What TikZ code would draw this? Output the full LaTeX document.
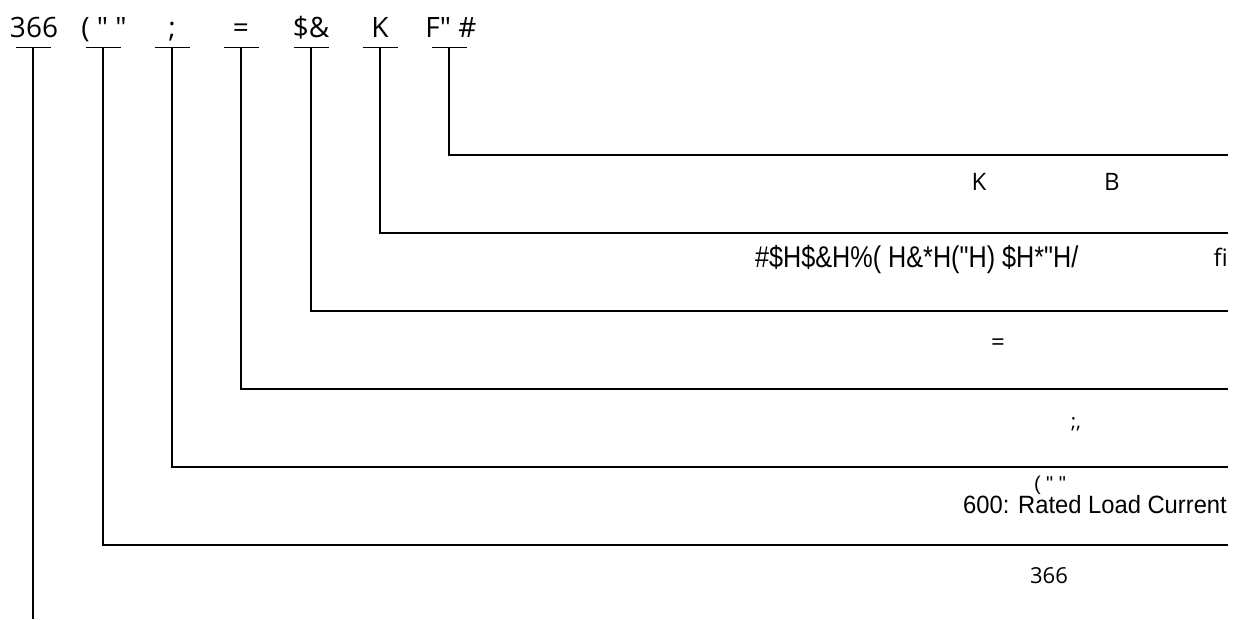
\documentclass[tikz,border=0pt]{standalone}
\usepackage{fontspec}
\newfontfamily\osf{Open Sans}
\newfontfamily\arialf{Liberation Sans}
\newfontfamily\garf{Liberation Sans}[FakeStretch=0.84]
\newfontfamily\rlf{Liberation Sans}[FakeStretch=0.95]
\begin{document}
\begin{tikzpicture}[x=1pt,y=-1pt,
  lbl/.style={inner sep=0pt, anchor=base, font=\osf\fontsize{28}{30}\selectfont},
  sub/.style={inner sep=0pt, anchor=base, font=\osf\fontsize{24}{26}\selectfont},
  gar/.style={inner sep=0pt, anchor=base west, font=\garf\fontsize{30}{32}\selectfont},
  arl/.style={inner sep=0pt, anchor=base east, font=\rlf\fontsize{25}{27}\selectfont},
  conn/.style={draw=black, line width=1.2pt}]
\useasboundingbox (0,0) rectangle (1238,619);
% top labels
\node[lbl] (l1) at (34,37) {366};
\node[lbl] (l2) at (104,37) {( " "};
\node[lbl] (l3) at (172,37) {;};
\node[lbl] (l4) at (241,37) {=};
\node[lbl] (l5) at (311,37) {\$\&};
\node[lbl] (l6) at (380,37) {K};
\node[lbl] (l7) at (451,37) {F" \#};
% tick points
\coordinate (v1) at (33,47.5);
\coordinate (v2) at (103,47.5);
\coordinate (v3) at (172,47.5);
\coordinate (v4) at (241,47.5);
\coordinate (v5) at (311,47.5);
\coordinate (v6) at (380,47.5);
\coordinate (v7) at (449,47.5);
\foreach \v in {v1,v2,v3,v4,v5,v6,v7}
  \draw[conn] ([xshift=-17.5pt]\v) -- ([xshift=17.5pt]\v);
% line ends
\coordinate (e1) at (33,619);
\coordinate (h2) at (1228,545);
\coordinate (h3) at (1228,467);
\coordinate (h4) at (1228,389);
\coordinate (h5) at (1228,311);
\coordinate (h6) at (1228,233);
\coordinate (h7) at (1228,155);
\draw[conn] (v1) -- (e1);
\draw[conn] (v2) |- (h2);
\draw[conn] (v3) |- (h3);
\draw[conn] (v4) |- (h4);
\draw[conn] (v5) |- (h5);
\draw[conn] (v6) |- (h6);
\draw[conn] (v7) |- (h7);
% labels under lines
\node[sub] (k) at (979,190) {K};
\node[sub] (b) at (1112,190) {B};
\node[gar] (g) at (755,267) {\#\$H\$\&H\%( H\&*H("H) \$H*"H/};
\node[sub, anchor=base east] (fi) at (1228,266) {fi};
\node[sub] (eq) at (998,350) {=};
\node[inner sep=0pt, anchor=base, font=\osf\fontsize{20}{22}\selectfont] (sc) at (1076,428) {;,};
\node[inner sep=0pt, anchor=base, font=\arialf\fontsize{20}{22}\selectfont] (pq) at (1050,490) {( " "};
\node[arl] (rl) at (1227,513) {600: Rated Load Current};
\node[inner sep=0pt, anchor=base, font=\osf\fontsize{22}{24}\selectfont] (n366) at (1049,583) {366};
\end{tikzpicture}
\end{document}
